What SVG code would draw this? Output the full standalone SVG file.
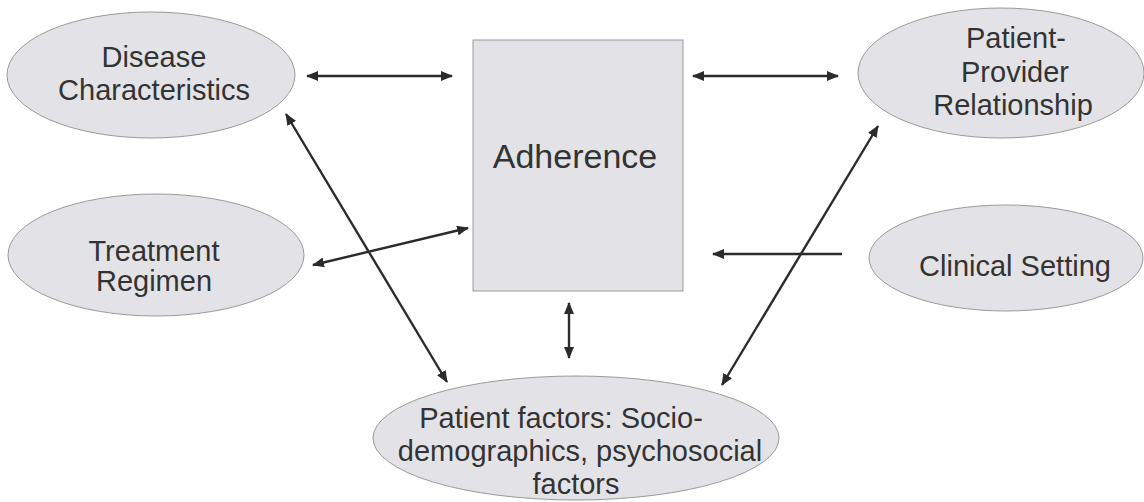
<svg xmlns="http://www.w3.org/2000/svg" width="1144" height="502" viewBox="0 0 1144 502">
  <style>
    .node { fill: #e3e3e7; stroke: #9a9a9a; stroke-width: 1; }
    .label { font-family: "Liberation Sans", Arial, sans-serif; font-size: 29px; fill: #333333; text-anchor: middle; }
    .title { font-size: 34px; }
    .link { stroke: #2b2b2b; stroke-width: 2.4; fill: none; }
  </style>
  <defs>
    <marker id="head" viewBox="0 0 12 10" refX="11" refY="5" markerWidth="12" markerHeight="10" markerUnits="userSpaceOnUse" orient="auto-start-reverse">
      <path d="M0,0 L12,5 L0,10 z" fill="#2b2b2b"/>
    </marker>
  </defs>
  <rect width="1144" height="502" fill="#ffffff"/>

  <g id="adherence">
    <rect class="node" x="473" y="40" width="210" height="251"/>
    <text class="label title" x="575" y="168">Adherence</text>
  </g>

  <g id="disease-characteristics">
    <ellipse class="node" cx="151" cy="75" rx="144" ry="63"/>
    <text class="label" x="154" y="67">Disease</text>
    <text class="label" x="154" y="100">Characteristics</text>
  </g>

  <g id="patient-provider">
    <ellipse class="node" cx="1001" cy="73" rx="143" ry="65"/>
    <text class="label" x="1016" y="48">Patient-</text>
    <text class="label" x="1015" y="82">Provider</text>
    <text class="label" x="1013" y="115">Relationship</text>
  </g>

  <g id="treatment-regimen">
    <ellipse class="node" cx="156" cy="255" rx="148" ry="61"/>
    <text class="label" x="154" y="261">Treatment</text>
    <text class="label" x="154" y="291">Regimen</text>
  </g>

  <g id="clinical-setting">
    <ellipse class="node" cx="1006" cy="258" rx="137" ry="53"/>
    <text class="label" x="1015" y="276">Clinical Setting</text>
  </g>

  <g id="patient-factors">
    <ellipse class="node" cx="576" cy="438" rx="203" ry="62"/>
    <text class="label" x="561" y="428">Patient factors: Socio-</text>
    <text class="label" x="580" y="461">demographics, psychosocial</text>
    <text class="label" x="576" y="494">factors</text>
  </g>

  <g id="connectors">
    <line class="link" x1="307" y1="76" x2="452" y2="76" marker-start="url(#head)" marker-end="url(#head)"/>
    <line class="link" x1="693" y1="76" x2="838" y2="76" marker-start="url(#head)" marker-end="url(#head)"/>
    <line class="link" x1="313" y1="265" x2="468" y2="228" marker-start="url(#head)" marker-end="url(#head)"/>
    <line class="link" x1="286" y1="114" x2="447" y2="382" marker-start="url(#head)" marker-end="url(#head)"/>
    <line class="link" x1="569" y1="303" x2="569" y2="358" marker-start="url(#head)" marker-end="url(#head)"/>
    <line class="link" x1="878" y1="126" x2="722" y2="385" marker-start="url(#head)" marker-end="url(#head)"/>
    <line class="link" x1="842" y1="254" x2="713" y2="254" marker-end="url(#head)"/>
  </g>
</svg>
